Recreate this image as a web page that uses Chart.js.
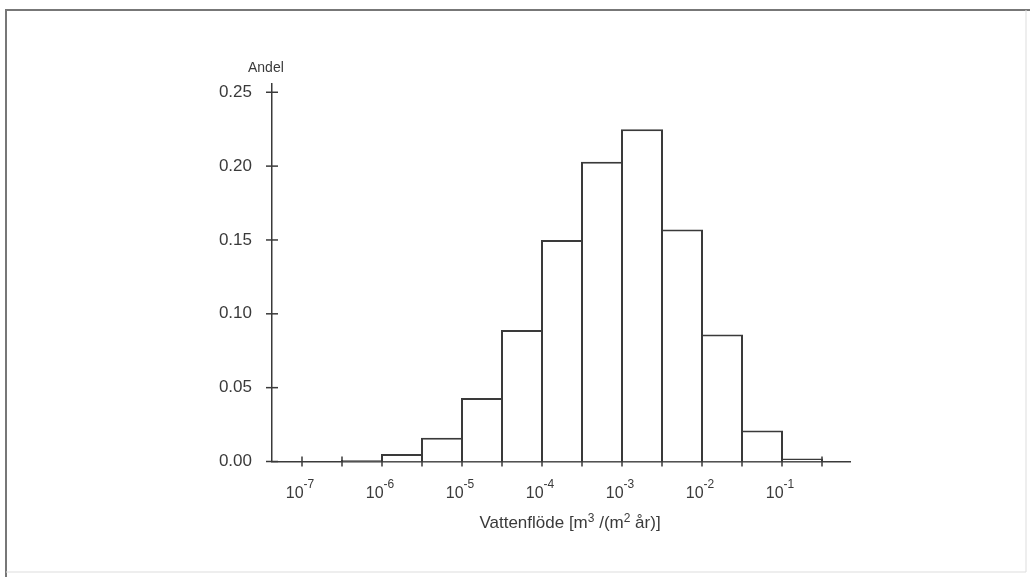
<!DOCTYPE html>
<html>
<head>
<meta charset="utf-8">
<script src="https://cdn.jsdelivr.net/npm/chart.js@4.4.1/dist/chart.umd.min.js"></script>
<style>
  html, body { margin: 0; padding: 0; background: #fff; }
  #wrap { width: 1030px; height: 577px; position: relative; }
</style>
</head>
<body>
<div id="wrap"><canvas id="histChart"></canvas></div>
<script>
// bin lower edges, as log10 of flow (half-decade bins)
const binLow = [-6.5, -6, -5.5, -5, -4.5, -4, -3.5, -3, -2.5, -2, -1.5, -1];
const andel = [0.001, 0.005, 0.016, 0.043, 0.089, 0.150, 0.203, 0.225, 0.157, 0.086, 0.021, 0.002];
const xTicks = [-7, -6.5, -6, -5.5, -5, -4.5, -4, -3.5, -3, -2.5, -2, -1.5, -1, -0.5];
const yTicks = [0, 0.05, 0.10, 0.15, 0.20, 0.25];

const ink = '#3a3a3a';
const fontFam = '"Liberation Sans", Arial, sans-serif';

// draws text pieces, [text, isSuperscript], centred on cx
function drawSupText(ctx, parts, cx, baseY, size, supSize, rise) {
    let total = 0;
    const widths = parts.map(([txt, sup]) => {
        ctx.font = (sup ? supSize : size) + 'px ' + fontFam;
        const w = ctx.measureText(txt).width;
        total += w;
        return w;
    });
    let x = cx - total / 2;
    ctx.textAlign = 'left';
    ctx.textBaseline = 'alphabetic';
    parts.forEach(([txt, sup], i) => {
        ctx.font = (sup ? supSize : size) + 'px ' + fontFam;
        ctx.fillText(txt, x, sup ? baseY - rise : baseY);
        x += widths[i];
    });
}

const axisDecor = {
    id: 'axisDecor',
    afterDraw(chart) {
        const ctx = chart.ctx;
        const xs = chart.scales.x, ys = chart.scales.y;
        const x0 = chart.chartArea.left, y0 = chart.chartArea.bottom;
        ctx.save();
        ctx.strokeStyle = ink;
        ctx.fillStyle = ink;
        ctx.lineWidth = 1.5;

        // y ticks crossing the axis
        ctx.font = '17px ' + fontFam;
        ctx.textAlign = 'right';
        ctx.textBaseline = 'middle';
        ys.ticks.forEach(t => {
            const py = ys.getPixelForValue(t.value);
            ctx.beginPath();
            ctx.moveTo(x0 - 6, py);
            ctx.lineTo(x0 + 6, py);
            ctx.stroke();
            ctx.fillText(t.value.toFixed(2), x0 - 20, py);
        });

        // x ticks crossing the axis, decade labels 10^n
        xs.ticks.forEach(t => {
            const px = xs.getPixelForValue(t.value);
            ctx.beginPath();
            ctx.moveTo(px, y0 - 5);
            ctx.lineTo(px, y0 + 5);
            ctx.stroke();
            if (Number.isInteger(t.value)) {
                drawSupText(ctx, [['10', false], [String(t.value), true]], px - 2, y0 + 36, 16, 12, 10);
            }
        });

        // y label
        ctx.font = '14px ' + fontFam;
        ctx.textAlign = 'left';
        ctx.textBaseline = 'alphabetic';
        ctx.fillText('Andel', 248, 72);

        // x title
        drawSupText(ctx, [['Vattenflöde [m', false], ['3', true], [' /(m', false], ['2', true], [' år)]', false]],
            570, 528, 17, 12, 6);

        // outer frame
        ctx.strokeStyle = '#777';
        ctx.lineWidth = 2;
        ctx.beginPath();
        ctx.moveTo(6, 577);
        ctx.lineTo(6, 10);
        ctx.lineTo(1030, 10);
        ctx.stroke();
        ctx.strokeStyle = '#ddd';
        ctx.lineWidth = 1;
        ctx.beginPath();
        ctx.moveTo(1026, 10);
        ctx.lineTo(1026, 572);
        ctx.lineTo(6, 572);
        ctx.stroke();
        ctx.restore();
    }
};

new Chart(document.getElementById('histChart'), {
    type: 'bar',
    data: {
        datasets: [{
            data: binLow.map((lo, i) => ({ x: lo + 0.25, y: andel[i] })),
            backgroundColor: '#ffffff',
            borderColor: ink,
            borderWidth: 2,
            borderSkipped: 'bottom',
            barPercentage: 1.05,
            categoryPercentage: 1
        }]
    },
    options: {
        responsive: true,
        maintainAspectRatio: false,
        animation: false,
        events: [],
        layout: { padding: { left: 272, right: 180, top: 84, bottom: 115.5 } },
        plugins: { legend: { display: false }, tooltip: { enabled: false } },
        scales: {
            x: {
                type: 'linear',
                offset: false,
                min: -7.375,
                max: -0.15,
                afterBuildTicks: s => { s.ticks = xTicks.map(v => ({ value: v })); },
                afterFit: s => { s.height = 0; },
                ticks: { display: false },
                grid: { display: false, offset: false },
                border: { display: true, color: ink, width: 1.5 }
            },
            y: {
                min: 0,
                max: 0.2556,
                afterBuildTicks: s => { s.ticks = yTicks.map(v => ({ value: v })); },
                afterFit: s => { s.width = 0; },
                ticks: { display: false },
                grid: { display: false },
                border: { display: true, color: ink, width: 1.5 }
            }
        }
    },
    plugins: [axisDecor]
});
</script>
</body>
</html>
